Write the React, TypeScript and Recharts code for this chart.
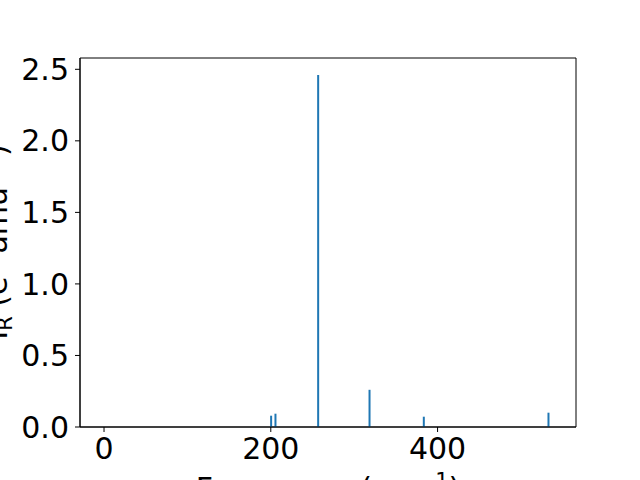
import { BarChart, Bar, XAxis, YAxis, ReferenceArea } from 'recharts';

const frequencies = [200.6, 205.8, 257.0, 318.6, 383.7, 533.2];
const intensities = [0.079, 0.093, 2.46, 0.26, 0.072, 0.1];
const xTicks = [0, 200, 400];
const yTicks = [0, 0.5, 1.0, 1.5, 2.0, 2.5];

const X_MIN = -28.8;
const X_MAX = 566;
const Y_MAX = 2.579;

const data = frequencies.map((f, i) => ({ freq: f, ir: intensities[i] }));

const FONT = 'DejaVu Sans, sans-serif';
const tickStyle = { fill: '#000', fontSize: 30, fontFamily: FONT };

const YLabel = () => (
  <text
    x={7}
    y={242}
    transform="rotate(-90 7 242)"
    textAnchor="middle"
    fontSize={30}
    fontFamily={FONT}
    fill="#000"
  >
    I<tspan fontSize={21} dy={5}>R</tspan>
    <tspan dy={-5}> (e</tspan>
    <tspan fontSize={21} dy={-11}>2</tspan>
    <tspan dy={11}> amu</tspan>
    <tspan fontSize={21} dy={-11}>−1</tspan>
    <tspan dy={11}>)</tspan>
  </text>
);

const XLabel = () => (
  <text x={328} y={499} textAnchor="middle" fontSize={30} fontFamily={FONT} fill="#000">
    Frequency (cm<tspan fontSize={21} dy={-11}>−1</tspan>
    <tspan dy={11}>)</tspan>
  </text>
);

export default function App() {
  return (
    <div style={{ position: 'absolute', left: 0, top: 0, width: 640, height: 480, background: '#fff' }}>
      <BarChart
        width={640}
        height={480}
        data={data}
        margin={{ top: 58, right: 64, left: 0, bottom: 0 }}
        barSize={2}
      >
        <XAxis
          dataKey="freq"
          type="number"
          domain={[X_MIN, X_MAX]}
          ticks={xTicks}
          allowDataOverflow
          height={53}
          tick={tickStyle}
          tickSize={5}
          tickMargin={6}
          stroke="#000"
          axisLine={{ stroke: '#000' }}
          tickLine={{ stroke: '#000' }}
          label={<XLabel />}
        />
        <YAxis
          type="number"
          domain={[0, Y_MAX]}
          ticks={yTicks}
          allowDataOverflow
          width={80}
          tick={tickStyle}
          tickSize={5}
          tickMargin={6}
          tickFormatter={(v: number) => v.toFixed(1)}
          axisLine={{ stroke: '#000' }}
          tickLine={{ stroke: '#000' }}
          label={<YLabel />}
        />
        <ReferenceArea
          x1={X_MIN}
          x2={X_MAX}
          y1={0}
          y2={Y_MAX}
          fill="none"
          stroke="#000"
          strokeWidth={1}
          fillOpacity={0}
        />
        <Bar dataKey="ir" fill="#1f77b4" isAnimationActive={false} />
      </BarChart>
    </div>
  );
}
